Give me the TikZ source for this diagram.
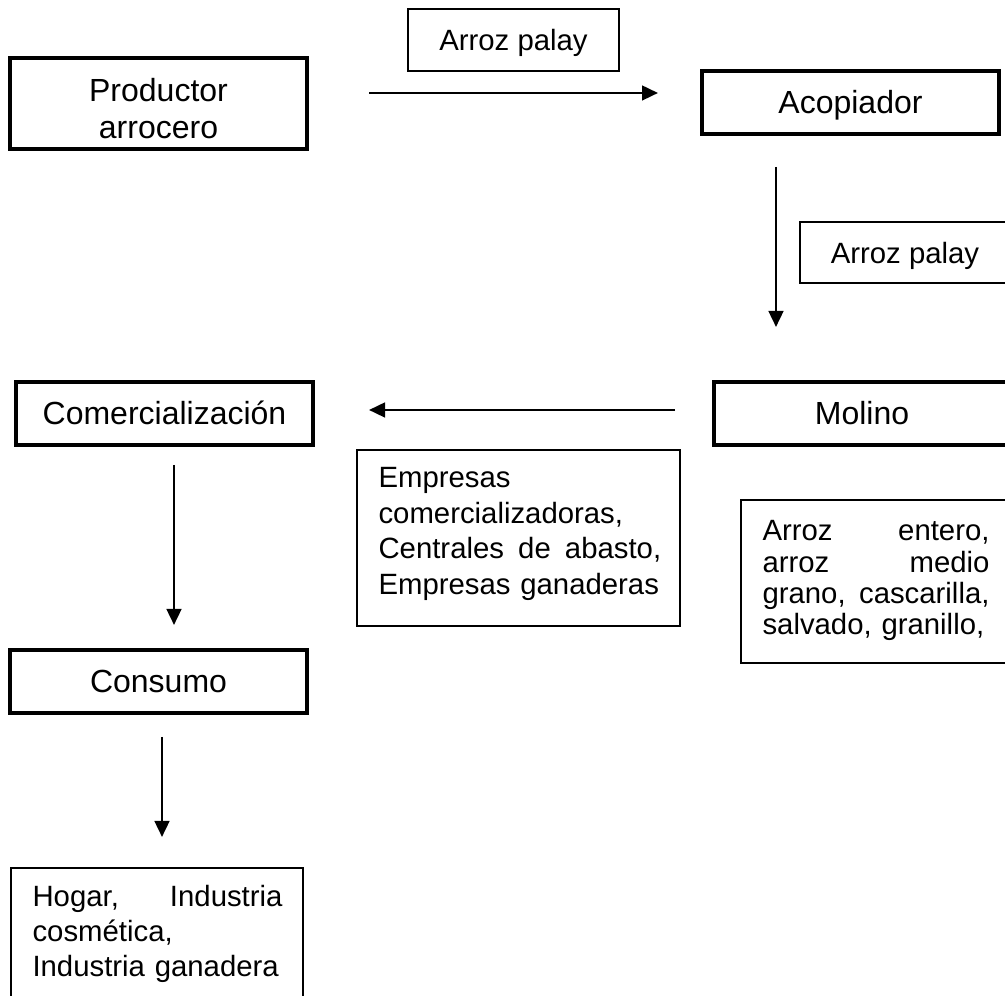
\documentclass[tikz,border=0pt]{standalone}
\usepackage{fontspec}
\setmainfont{Liberation Sans}
\usetikzlibrary{arrows.meta}
\begin{document}
\begin{tikzpicture}[x=0.375pt,y=-0.375pt,
  mainbox/.style={draw=black, line width=1.35pt, inner sep=0pt, font=\fontsize{12}{13.8}\selectfont},
  oneline/.style={text height=8.6pt, text depth=0pt},
  labelbox/.style={draw=black, line width=0.5pt, inner sep=0pt, font=\fontsize{11}{12.6}\selectfont, text height=7.9pt, text depth=0pt},
  textbox/.style={draw=black, line width=0.75pt, inner sep=0pt},
  bodytext/.style={inner sep=0pt, anchor=base west, align=left},
  flow/.style={line width=0.95pt, -{Triangle[length=6pt,width=5.5pt]}}
]
\useasboundingbox (0,0) rectangle (1005,996);
\clip (0,0) rectangle (1005,996);

% main boxes
\node[mainbox, align=center, minimum width=111.375pt, minimum height=34.125pt] (prod) at (158.5,103.5) {\rule{0pt}{12.4pt}Productor\\arrocero};
\node[mainbox, oneline, minimum width=111.375pt, minimum height=23.625pt] (acop) at (850.5,102.5) {Acopiador};
\node[mainbox, oneline, minimum width=111pt, minimum height=23.625pt] (molino) at (862,413.5) {Molino};
\node[mainbox, oneline, minimum width=111.375pt, minimum height=23.625pt] (comer) at (164.5,413.5) {Comercialización};
\node[mainbox, oneline, minimum width=111.375pt, minimum height=23.625pt] (consumo) at (158.5,681.5) {Consumo};

% label boxes
\node[labelbox, minimum width=79.125pt, minimum height=23.25pt] (palay1) at (513.5,40) {Arroz palay};
\node[labelbox, minimum width=78.75pt, minimum height=22.875pt] (palay2) at (905,252.5) {Arroz palay};

% text boxes
\node[textbox, minimum width=121.125pt, minimum height=66pt] (empbox) at (518.5,538) {};
\node[bodytext, text width=106pt, font=\fontsize{11}{13.3}\selectfont] (emptxt) at (378,488)
  {Empresas\\ comercializadoras,\\ Centrales \hfill de \hfill abasto,\\ \mbox{Empresas ganaderas}};

\node[textbox, minimum width=100.875pt, minimum height=61.125pt] (entbox) at (875.5,581.5) {};
\node[bodytext, text width=85.125pt, font=\fontsize{11}{11.7}\selectfont] (entxt) at (762,541)
  {Arroz \hfill entero,\\ arroz \hfill medio\\ grano, \hfill cascarilla,\\ salvado, granillo,};

\node[textbox, minimum width=109.5pt, minimum height=53.25pt] (hogbox) at (157,939) {};
\node[bodytext, text width=93.75pt, font=\fontsize{11}{13.1}\selectfont] (hogtxt) at (32,907)
  {Hogar, \hfill Industria\\ cosmética,\\ \mbox{Industria ganadera}};

% arrow end points
\coordinate (a1s) at (369,93);  \coordinate (a1e) at (658,93);
\coordinate (a2s) at (776,167); \coordinate (a2e) at (776,327);
\coordinate (a3s) at (675,410); \coordinate (a3e) at (369,410);
\coordinate (a4s) at (174,465); \coordinate (a4e) at (174,625);
\coordinate (a5s) at (162,737); \coordinate (a5e) at (162,837);

\draw[flow] (a1s) -- (a1e);
\draw[flow] (a2s) -- (a2e);
\draw[flow] (a3s) -- (a3e);
\draw[flow] (a4s) -- (a4e);
\draw[flow] (a5s) -- (a5e);
\end{tikzpicture}
\end{document}
